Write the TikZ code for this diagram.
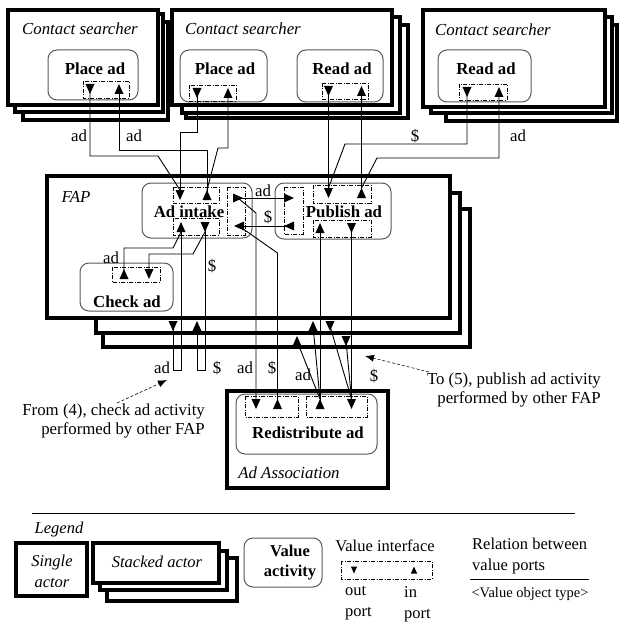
\documentclass[tikz,border=0pt]{standalone}
\usepackage{fontspec}
\setmainfont{Liberation Serif}
\usetikzlibrary{arrows.meta}
\tikzset{
  pdn/.pic={\fill (-4.5,-5) -- (4.5,-5) -- (0,5) -- cycle;},
  pup/.pic={\fill (-4.5,5) -- (4.5,5) -- (0,-5) -- cycle;},
  prt/.pic={\fill (-5,-4.5) -- (-5,4.5) -- (5,0) -- cycle;},
  plt/.pic={\fill (5,-4.5) -- (5,4.5) -- (-5,0) -- cycle;},
}
\begin{document}
\begin{tikzpicture}[x=1pt,y=-1pt,
  actor/.style={draw, line width=3.3pt, fill=white},
  act/.style={draw=black!65, line width=1pt, rounded corners=9pt, fill=white},
  iface/.style={draw, line width=0.8pt, dash pattern=on 4pt off 1.5pt on 1pt off 1.5pt},
  conn/.style={draw, line width=0.9pt},
  lbl/.style={inner sep=0pt, font=\fontsize{16.8}{19}\selectfont},
  ttl/.style={inner sep=0pt, font=\fontsize{16.8}{19}\selectfont\itshape},
  abold/.style={inner sep=0pt, font=\fontsize{16.8}{19}\selectfont\bfseries},
  lg/.style={inner sep=0pt, font=\fontsize{16.5}{21}\selectfont},
  lgi/.style={inner sep=0pt, font=\fontsize{16.5}{21}\selectfont\itshape},
  lgb/.style={inner sep=0pt, font=\fontsize{16.5}{20}\selectfont\bfseries},
  dasharr/.style={draw, line width=0.6pt, dash pattern=on 3pt off 2pt, -{Latex[length=9pt,width=7pt]}},
]
\useasboundingbox (0,0) rectangle (620,623);

% ---------- actors ----------
\draw[actor] (23,22) rectangle (168,120);
\draw[actor] (15,14) rectangle (163,112);
\draw[actor] (8,10) rectangle (158,105);
\node[ttl, anchor=west] (cs1t) at (22,29) {Contact searcher};

\draw[actor] (186,25) rectangle (408,118);
\draw[actor] (182,17) rectangle (400,113);
\draw[actor] (172,10) rectangle (392,105);
\node[ttl, anchor=west] (cs2t) at (185,29) {Contact searcher};

\draw[actor] (446,25) rectangle (617,121);
\draw[actor] (431,17) rectangle (612,113);
\draw[actor] (423,10) rectangle (605,107);
\node[ttl, anchor=west] (cs3t) at (435,30) {Contact searcher};

\draw[actor] (103,209) rectangle (470,347);
\draw[actor] (96,193) rectangle (460,333);
\draw[actor] (47,176) rectangle (450,318);
\node[ttl] (fapt) at (76,197) {FAP};

\draw[actor] (227,391) rectangle (388,488);
\node[ttl] (aat) at (289,473) {Ad Association};

% ---------- activities ----------
\draw[act] (48,50) rectangle (138,100);   \node[abold] (a1) at (95,69) {Place ad};
\draw[act] (180,50) rectangle (267,102);  \node[abold] (a2) at (225,69) {Place ad};
\draw[act] (297,50) rectangle (383,102);  \node[abold] (a3) at (342,69) {Read ad};
\draw[act] (438,50) rectangle (531,102);  \node[abold] (a4) at (486,69) {Read ad};
\draw[act] (142,183) rectangle (252,238); \node[abold] (a5) at (189,212) {Ad intake};
\draw[act] (275,183) rectangle (391,239); \node[abold] (a6) at (344,212) {Publish ad};
\draw[act] (80,263) rectangle (173,311);  \node[abold] (a7) at (127,302) {Check ad};
\draw[act] (236,394) rectangle (377,454); \node[abold] (a8) at (308,433) {Redistribute ad};

% ---------- interfaces ----------
\draw[iface] (83,81) rectangle (129,98);
\draw[iface] (189,85) rectangle (236,101);
\draw[iface] (322,83) rectangle (368,99);
\draw[iface] (459,84) rectangle (507,100);
\draw[iface] (173,187) rectangle (219,203);
\draw[iface] (173,218) rectangle (219,235);
\draw[iface] (227,187) rectangle (245,235);
\draw[iface] (284,187) rectangle (303,234);
\draw[iface] (313,185) rectangle (371,203);
\draw[iface] (313,220) rectangle (371,237);
\draw[iface] (112,267) rectangle (160,282);
\draw[iface] (245,396) rectangle (298,417);
\draw[iface] (306,396) rectangle (367,417);

% ---------- port positions ----------
\coordinate (cs1o) at (90,89);    \coordinate (cs1i) at (119,89);
\coordinate (cs2po) at (197,93);  \coordinate (cs2pi) at (228,93);
\coordinate (cs2ro) at (328.5,91);\coordinate (cs2ri) at (361.5,91);
\coordinate (cs3o) at (467,92);   \coordinate (cs3i) at (499,92);
\coordinate (ait1) at (180,195);  \coordinate (ait2) at (207,195);
\coordinate (aib1) at (181,227);  \coordinate (aib2) at (205,227);
\coordinate (air1) at (238,198);  \coordinate (air2) at (239,226);
\coordinate (pul1) at (289,198);  \coordinate (pul2) at (289,226);
\coordinate (put1) at (328.5,193);\coordinate (put2) at (361.5,193);
\coordinate (pub1) at (320,228);  \coordinate (pub2) at (351.5,228);
\coordinate (ca1) at (124,274);   \coordinate (ca2) at (149,274);
\coordinate (rl1) at (256,404);   \coordinate (rl2) at (277.5,404);
\coordinate (rr1) at (320,404);   \coordinate (rr2) at (351.5,404);
\coordinate (fb1) at (173,326);   \coordinate (fb2) at (197,326);
\coordinate (fb3) at (313,326);   \coordinate (fb4) at (330,326);
\coordinate (fb5) at (297,341);   \coordinate (fb6) at (346,341);

% ---------- connectors ----------
\draw[conn] (cs1o) -- (90,156) -- (158,156) -- ([yshift=5pt]ait1);
\draw[conn] (cs1i) -- (119,150) -- (207,150) -- (ait2);
\draw[conn] (cs2po) -- (197,132) -- (180,132) -- (ait1);
\draw[conn] (cs2pi) -- (228,148) -- (218,148) -- ([yshift=5pt]ait2);
\draw[conn] (cs2ro) -- (put1);
\draw[conn] (cs2ri) -- (put2);
\draw[conn] (cs3o) -- (467,144) -- (345,144) -- ([yshift=5pt]put1);
\draw[conn] (cs3i) -- (499,158) -- (377,158) -- ([yshift=5pt]put2);
\draw[conn] (air1) -- (pul1);
\draw[conn] (pul2) -- (air2);
\draw[conn] (air1) -- (256,213) -- (rl1);
\draw[conn] (air2) -- (277.5,253) -- (rl2);
\draw[conn] (ca1) -- (124,248) -- (173,248) -- ([yshift=-5pt]aib1);
\draw[conn] (ca2) -- (149,254) -- (193,254) -- ([yshift=-5pt]aib2);
\draw[conn] (aib1) -- (181,370) -- (173,370) -- (fb1);
\draw[conn] (aib2) -- (205,370) -- (197,370) -- (fb2);
\draw[conn] (rr1) -- (pub1);
\draw[conn] ([yshift=5pt]rr1) -- (fb3);
\draw[conn] ([yshift=5pt]rr1) -- (fb5);
\draw[conn] (pub2) -- (rr2);
\draw[conn] (fb4) -- ([yshift=5pt]rr2);
\draw[conn] (fb6) -- ([yshift=5pt]rr2);

% ---------- port triangles ----------
\foreach \p in {cs1o,cs2po,cs2ro,cs3o,ait1,aib2,put1,pub2,ca2,rl1,rr2,fb1,fb4,fb6} {\pic at (\p) {pdn};}
\foreach \p in {cs1i,cs2pi,cs2ri,cs3i,ait2,aib1,put2,pub1,ca1,rl2,rr1,fb2,fb3,fb5} {\pic at (\p) {pup};}
\pic at (air1) {prt}; \pic at (pul1) {prt};
\pic at (air2) {plt}; \pic at (pul2) {plt};

% ---------- labels ----------
\node[lbl] (l1) at (79,136) {ad};
\node[lbl] (l2) at (134,136) {ad};
\node[lbl] (l3) at (415,136) {\$};
\node[lbl] (l4) at (518,136) {ad};
\node[lbl] (l5) at (263,191) {ad};
\node[lbl] (l6) at (268,217) {\$};
\node[lbl] (l7) at (111,258) {ad};
\node[lbl] (l8) at (212,266) {\$};
\node[lbl] (l9) at (162,368) {ad};
\node[lbl] (l10) at (217,368) {\$};
\node[lbl] (l11) at (245,368) {ad};
\node[lbl] (l12) at (272,368) {\$};
\node[lbl] (l13) at (303,375) {ad};
\node[lbl] (l14) at (374,376) {\$};

% ---------- notes ----------
\node[lbl, align=right, anchor=east] (from4) at (205,420.5) {From (4), check ad activity\\performed by other FAP};
\node[lbl, align=right, anchor=east] (to5) at (601,389.5) {To (5), publish ad activity\\performed by other FAP};
\coordinate (from4s) at (117,403);
\coordinate (from4e) at (167,380);
\coordinate (to5s) at (429,372);
\coordinate (to5e) at (365,356);
\draw[dasharr] (from4s) -- (from4e);
\draw[dasharr] (to5s) -- (to5e);

% ---------- legend ----------
\draw[line width=0.8pt] (32,513) coordinate (sepa) -- (575,513) coordinate (sepb);
\node[lgi] (lgt) at (59,530) {Legend};
\draw[actor] (16,543) rectangle (87,596);
\node[lgi, align=center] (lgs) at (52,571) {Single\\actor};
\draw[actor] (107,558) rectangle (237,601);
\draw[actor] (100,551) rectangle (227,590);
\draw[actor] (93,543) rectangle (219,583);
\node[lgi] (lgst) at (157,562) {Stacked actor};
\draw[act] (244,538) rectangle (322,587);
\node[lgb, align=center] (lgva) at (290,563) {Value\\activity};
\node[lg] (lgvi) at (385,546) {Value interface};
\draw[iface] (341,561) rectangle (432,579);
\coordinate (lgo) at (354,570); \coordinate (lgi) at (414,570);
\pic[scale=0.7] at (lgo) {pdn};
\pic[scale=0.7] at (lgi) {pup};
\node[lg, align=left, anchor=north west] (lgop) at (345,586) {out\\port};
\node[lg, align=left, anchor=north west] (lgip) at (404,586) {in\\port};
\node[lg, align=left, anchor=west] (lgrel) at (472,556) {Relation between\\value ports};
\draw[line width=0.8pt] (470,579) coordinate (rla) -- (589,579) coordinate (rlb);
\node[inner sep=0pt, font=\fontsize{14.5}{17}\selectfont] (lgvot) at (530,594) {<Value object type>};
\end{tikzpicture}
\end{document}
